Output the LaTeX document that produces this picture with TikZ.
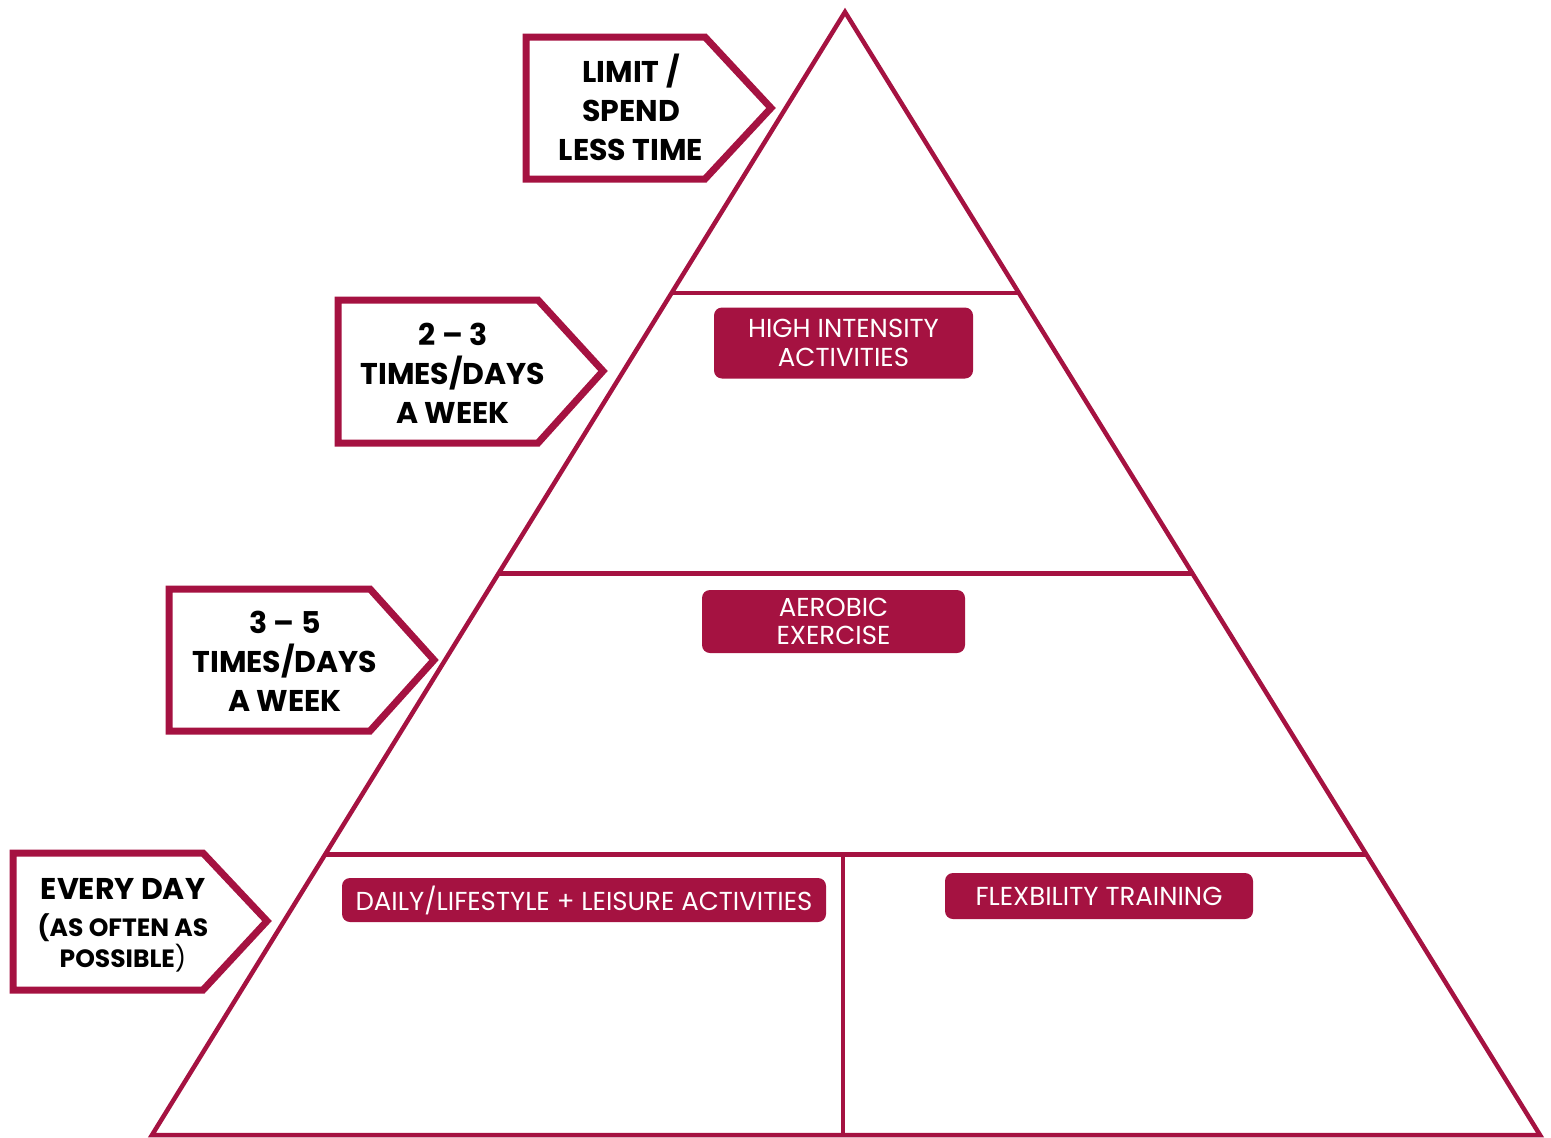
\documentclass[tikz,border=0pt]{standalone}
\usepackage{fontspec}
\setmainfont{Poppins}
\usetikzlibrary{positioning,calc}
\definecolor{pyrred}{RGB}{165,18,65}

\begin{document}
\begin{tikzpicture}[x=1pt,y=-1pt,
  edge/.style={draw=pyrred,line width=4.5pt},
  tag/.style={draw=pyrred,line width=7pt,fill=white,line join=miter},
  tagtext/.style={align=center,font=\fontsize{30}{39}\selectfont\bfseries},
  pill/.style={fill=pyrred,rounded corners=8pt,text=white,align=center,inner sep=0pt,
               font=\fontsize{26}{28.5}\selectfont}]
  \useasboundingbox (0,0) rectangle (1551,1138);
  % pyramid
  \coordinate (apex) at (845,12);
  \coordinate (bl) at (152,1135);
  \coordinate (br) at (1540,1135);
  \coordinate (l1) at ($(apex)!0.25!(bl)$);  \coordinate (r1) at ($(apex)!0.25!(br)$);
  \coordinate (l2) at ($(apex)!0.5!(bl)$);   \coordinate (r2) at ($(apex)!0.5!(br)$);
  \coordinate (l3) at ($(apex)!0.75!(bl)$);  \coordinate (r3) at ($(apex)!0.75!(br)$);
  \coordinate (mid3) at (843,857);
  \coordinate (midb) at (843,1135);
  \draw[edge,line join=miter] (apex) -- (bl) -- (br) -- cycle;
  \draw[edge] (l1) -- (r1);
  \draw[edge] (l2) -- (r2);
  \draw[edge] (l3) -- (r3);
  \draw[edge] (mid3) -- (midb);
  % activity labels
  \node[pill,minimum width=259,minimum height=71] (hi) at (843.5,343) {HIGH INTENSITY\\ACTIVITIES};
  \node[pill,minimum width=263,minimum height=63] (aer) at (833.5,621.5) {AEROBIC\\EXERCISE};
  \node[pill,minimum width=484,minimum height=44] (daily) at (584,900) {DAILY/LIFESTYLE + LEISURE ACTIVITIES};
  \node[pill,minimum width=308,minimum height=46] (flex) at (1099,896) {FLEXBILITY TRAINING};
  % frequency tags
  \draw[tag] (526,37) -- (705,37) -- (771,108) -- (705,179) -- (526,179) -- cycle;
  \draw[tag] (338,300) -- (538,300) -- (603,371) -- (538,443) -- (338,443) -- cycle;
  \draw[tag] (169,589) -- (370,589) -- (434,660) -- (370,731) -- (169,731) -- cycle;
  \draw[tag] (13,853) -- (203,853) -- (267,921) -- (203,990) -- (13,990) -- cycle;
  \node[tagtext] (limit) at (631,107) {LIMIT /\\SPEND\\LESS TIME};
  \node[tagtext] (twothree) at (453,373) {2 -- 3\\TIMES/DAYS\\A WEEK};
  \node[tagtext] (threefive) at (285,661) {3 -- 5\\TIMES/DAYS\\A WEEK};
  \node[tagtext] (everyday) at (123,925) {EVERY DAY\\[-2pt]
    \fontsize{25}{31}\selectfont (AS OFTEN AS\\[-8pt]
    \fontsize{25}{31}\selectfont POSSIBLE{\mdseries)}};
\end{tikzpicture}
\end{document}
